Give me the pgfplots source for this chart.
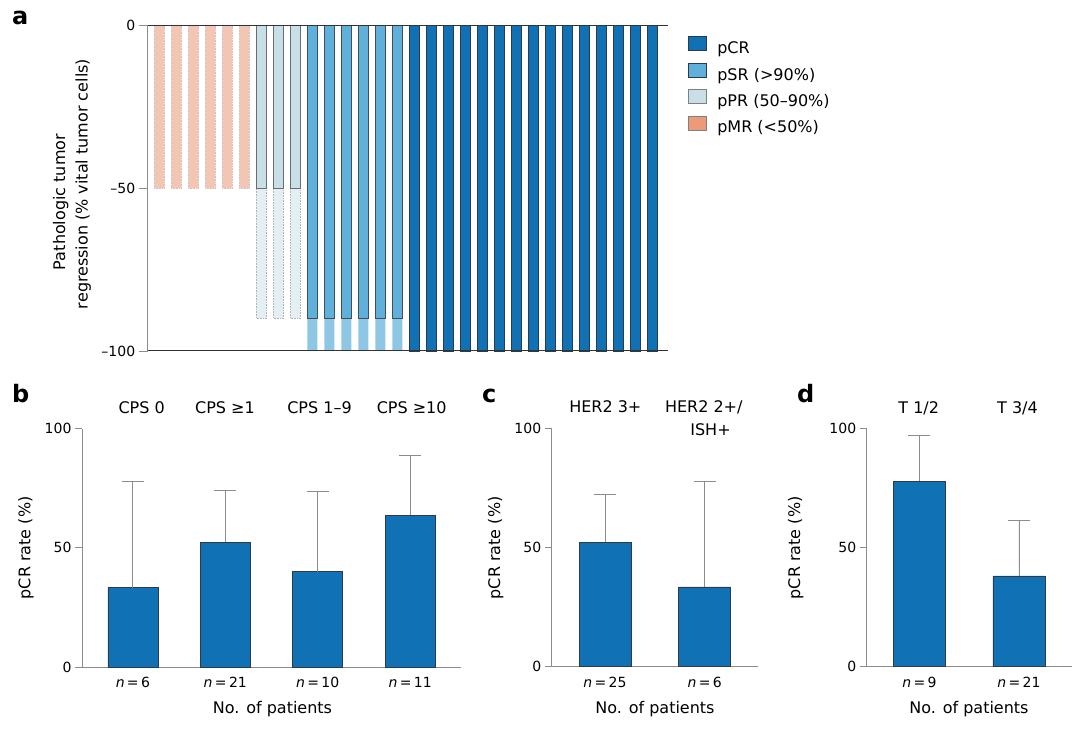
\documentclass[border=0pt]{standalone}
\usepackage{fontspec}
\setmainfont{DejaVu Sans}
\usepackage{pgfplots}
\pgfplotsset{compat=1.18}
\definecolor{mainblue}{HTML}{1072B4}
\definecolor{baredge}{HTML}{2E3A46}
\definecolor{psr}{HTML}{5FB0DA}
\definecolor{psrlight}{HTML}{8DC7E4}
\definecolor{ppr}{HTML}{C8DFE7}
\definecolor{pprlight}{HTML}{E4EFF3}
\definecolor{pmr}{HTML}{ED9A79}
\definecolor{pmrlight}{HTML}{F3C5B3}
\definecolor{axgray}{HTML}{8C8C8C}
\newcommand{\lab}{\fontsize{16}{19}\selectfont}
\newcommand{\tck}{\fontsize{14}{17}\selectfont}
\pgfplotsset{
  barpanel/.style={scale only axis, anchor=south west, ymin=0, ymax=100,
    axis lines*=left, axis line style={axgray, line width=0.8pt},
    ytick={0,50,100}, x tick style={draw=none}, y tick style={axgray, line width=0.8pt},
    tick align=outside, major tick length=7pt, tick label style={font=\tck},
    /pgf/number format/assume math mode=true, clip=false},
  pcrbar/.style={ybar, bar width=#1, bar shift=0pt, fill=mainblue, draw=baredge, line width=0.6pt,
    error bars/.cd, y dir=plus, y explicit,
    error bar style={axgray, line width=0.8pt},
    error mark options={rotate=90, axgray, mark size=11pt, line width=0.8pt}},
}
\begin{document}
\begin{tikzpicture}[x=1pt,y=1pt]
\useasboundingbox (0,0) rectangle (1080,729);

% ---------------- panel a ----------------
\begin{axis}[
  at={(147.7pt,378pt)}, anchor=south west, scale only axis,
  width=520.3pt, height=325.3pt,
  xmin=0.32, xmax=30.9, ymin=-100, ymax=0,
  axis line style={draw=none},
  xtick=\empty, ytick pos=left,
  ytick={-100,-50,0}, yticklabels={–100,–50,0},
  tick align=outside, major tick length=9pt,
  y tick style={axgray, line width=0.8pt},
  tick label style={font=\tck},
  clip=false,
  legend image code/.code={\draw[#1] (0pt,-1.2pt) rectangle (17.5pt,12.8pt);},
  legend style={at={(1.039,0.967)}, anchor=north west, draw=none, fill=none,
    inner sep=0pt, outer sep=0pt, row sep=5.2pt, font=\lab,
    nodes={inner sep=0pt, text height=12pt, text depth=4pt},
    /tikz/every odd column/.append style={column sep=10.7pt}},
  legend cell align=left,
]
\addlegendimage{fill=mainblue, draw=baredge, line width=0.8pt}
\addlegendentry{pCR}
\addlegendimage{fill=psr, draw=baredge, line width=0.8pt}
\addlegendentry{pSR (>90\%)}
\addlegendimage{fill=ppr, draw=gray, line width=0.8pt}
\addlegendentry{pPR (50–90\%)}
\addlegendimage{fill=pmr, draw=gray, line width=0.8pt}
\addlegendentry{pMR (<50\%)}

% pMR (range 0 to -50)
\addplot[ybar, bar width=10pt, bar shift=0pt, fill=pmrlight, draw=gray!45, densely dotted, line width=0.6pt, forget plot]
  coordinates {(1,-50) (2,-50) (3,-50) (4,-50) (5,-50) (6,-50)};
% pPR range to -90, solid to -50
\addplot[ybar, bar width=10pt, bar shift=0pt, fill=pprlight, draw=gray!60, densely dotted, line width=0.6pt, forget plot]
  coordinates {(7,-90) (8,-90) (9,-90)};
\addplot[ybar, bar width=10pt, bar shift=0pt, fill=ppr, draw=gray!85!black, line width=0.7pt, forget plot]
  coordinates {(7,-50) (8,-50) (9,-50)};
% pSR range to -100, solid to -90
\addplot[ybar, bar width=10pt, bar shift=0pt, fill=psrlight, draw=none, forget plot]
  coordinates {(10,-100) (11,-100) (12,-100) (13,-100) (14,-100) (15,-100)};
\addplot[ybar, bar width=10pt, bar shift=0pt, fill=psr, draw=baredge!90, line width=0.7pt, forget plot]
  coordinates {(10,-90) (11,-90) (12,-90) (13,-90) (14,-90) (15,-90)};
% pCR
\addplot[ybar, bar width=10pt, bar shift=0pt, fill=mainblue, draw=baredge, line width=0.7pt, forget plot]
  coordinates {(16,-100) (17,-100) (18,-100) (19,-100) (20,-100) (21,-100) (22,-100) (23,-100)
               (24,-100) (25,-100) (26,-100) (27,-100) (28,-100) (29,-100) (30,-100)};
\draw[axgray, line width=0.8pt] (rel axis cs:0,0) -- (rel axis cs:0,1);
\draw[black!80, line width=1pt] (rel axis cs:0,1) -- (rel axis cs:1,1);
\draw[black!80, line width=1pt] (rel axis cs:0,0) -- (rel axis cs:1,0);
\end{axis}

% ---------------- panel b ----------------
\begin{axis}[barpanel, at={(82pt,62pt)}, width=379pt, height=238.3pt,
  xmin=-0.55, xmax=3.55, xtick={0,1,2,3},
  xticklabels={\textit{n}\,=\,6, \textit{n}\,=\,21, \textit{n}\,=\,10, \textit{n}\,=\,11}]
\addplot[pcrbar=50pt] coordinates {(0,33.3) +- (0,44.4) (1,52.4) +- (0,21.9) (2,40.0) +- (0,33.8) (3,63.6) +- (0,25.3)};
\end{axis}

% ---------------- panel c ----------------
\begin{axis}[barpanel, at={(551.7pt,62.7pt)}, width=206.3pt, height=238.3pt,
  xmin=-0.535, xmax=1.535, xtick={0,1},
  xticklabels={\textit{n}\,=\,25, \textit{n}\,=\,6}]
\addplot[pcrbar=52pt] coordinates {(0,52.0) +- (0,20.3) (1,33.3) +- (0,44.4)};
\end{axis}

% ---------------- panel d ----------------
\begin{axis}[barpanel, at={(866.7pt,62.3pt)}, width=205pt, height=238.4pt,
  xmin=-0.53, xmax=1.53, xtick={0,1},
  xticklabels={\textit{n}\,=\,9, \textit{n}\,=\,21}]
\addplot[pcrbar=52pt] coordinates {(0,77.8) +- (0,19.4) (1,38.1) +- (0,23.2)};
\end{axis}

% ---------------- texts ----------------
\begin{scope}[every node/.style={inner sep=0pt, font=\lab}]
\node[font=\fontsize{24}{28}\selectfont\bfseries, anchor=base west] at (12,704) {a};
\node[font=\fontsize{24}{28}\selectfont\bfseries, anchor=base west] at (12,326) {b};
\node[font=\fontsize{24}{28}\selectfont\bfseries, anchor=base west] at (482,326) {c};
\node[font=\fontsize{24}{28}\selectfont\bfseries, anchor=base west] at (797,326) {d};
\node[rotate=90] at (60.8,527) {Pathologic tumor};
\node[rotate=90] at (83.3,545) {regression (\% vital tumor cells)};
\node[rotate=90] at (26,181.2) {pCR rate (\%)};
\node[rotate=90] at (495.7,181.2) {pCR rate (\%)};
\node[rotate=90] at (795.7,181.2) {pCR rate (\%)};
\node[anchor=base] at (141.7,315.7) {CPS 0};
\node[anchor=base] at (225,315.7) {CPS ≥1};
\node[anchor=base] at (319.5,315.7) {CPS 1–9};
\node[anchor=base] at (411.7,315.7) {CPS ≥10};
\node[anchor=base] at (605.3,316) {HER2 3+};
\node[anchor=base] at (703.8,316) {HER2 2+/};
\node[anchor=base] at (710.5,293.3) {ISH+};
\node[anchor=base] at (918.7,315.7) {T 1/2};
\node[anchor=base] at (1017.5,315.7) {T 3/4};
\node[anchor=base] at (272.5,16) {No. of patients};
\node[anchor=base] at (655,16) {No. of patients};
\node[anchor=base] at (969,16) {No. of patients};
\end{scope}
\end{tikzpicture}
\end{document}
